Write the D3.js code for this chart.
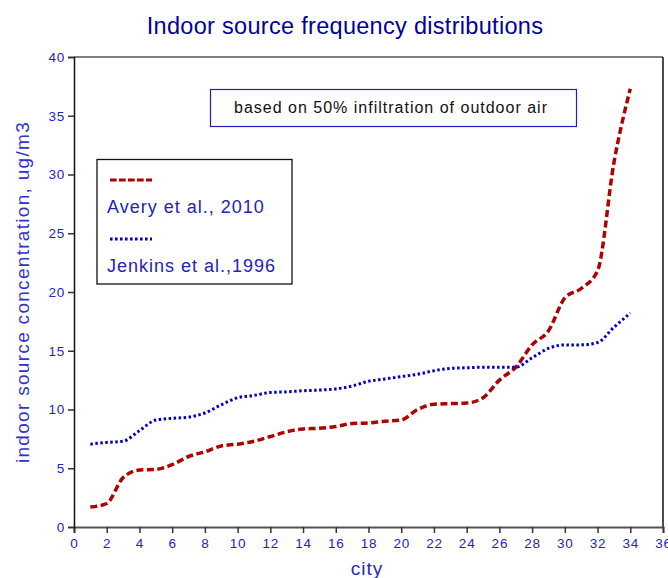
<!DOCTYPE html>
<html>
<head>
<meta charset="utf-8">
<script src="https://cdn.jsdelivr.net/npm/d3@7/dist/d3.min.js"></script>
<style>
  html, body { margin: 0; padding: 0; background: #fff; }
  svg { display: block; font-family: 'Liberation Sans', Arial, sans-serif; }
</style>
</head>
<body>
<svg id="chart" width="668" height="578"></svg>
<script>
// city index (sorted rank) 1..34
const cities = d3.range(1, 35);
// Avery et al., 2010 (ug/m3)
const avery = [1.7, 2.0, 4.2, 4.85, 4.9, 5.3, 6.0, 6.4, 6.9, 7.05,
  7.3, 7.7, 8.1, 8.35, 8.4, 8.55, 8.8, 8.85, 9.0, 9.1,
  10.0, 10.45, 10.5, 10.55, 11.0, 12.5, 13.6, 15.5, 16.7, 19.5,
  20.3, 21.8, 31.0, 37.3];
// Jenkins et al., 1996 (ug/m3)
const jenkins = [7.05, 7.2, 7.3, 8.2, 9.1, 9.25, 9.35, 9.7, 10.4, 11.0,
  11.2, 11.45, 11.5, 11.6, 11.65, 11.75, 12.0, 12.4, 12.6, 12.8,
  13.0, 13.3, 13.5, 13.55, 13.6, 13.6, 13.6, 14.4, 15.2, 15.5,
  15.5, 15.7, 17.0, 18.2];
const xTicks = d3.range(0, 37, 2);
const yTicks = d3.range(0, 41, 5);

const series = [
  { name: 'Avery et al., 2010', values: avery, color: '#b00000', dash: '7,3.5', width: 3.5 },
  { name: 'Jenkins et al.,1996', values: jenkins, color: '#0000c8', dash: '2.5,2.5', width: 3 },
];

const margin = { top: 57, right: 5, bottom: 51, left: 74 };
const width = 668 - margin.left - margin.right;
const height = 578 - margin.top - margin.bottom;
const labelColor = '#2424c0';

const svg = d3.select('#chart');
const g = svg.append('g')
  .attr('transform', `translate(${margin.left},${margin.top})`);

const x = d3.scaleLinear().domain([0, 36]).range([0, width]);
const y = d3.scaleLinear().domain([0, 40]).range([height, 0]);

// frame: top and right edges
g.append('line')
  .attr('x1', 0).attr('x2', width).attr('y1', 0).attr('y2', 0)
  .attr('stroke', '#555').attr('stroke-width', 1.5);
g.append('line')
  .attr('x1', width).attr('x2', width).attr('y1', 0).attr('y2', height)
  .attr('stroke', '#111').attr('stroke-width', 1.5);

// axes
const xAxis = g.append('g')
  .attr('transform', `translate(0,${height})`)
  .call(d3.axisBottom(x).tickValues(xTicks).tickSize(6).tickPadding(5));
const yAxis = g.append('g')
  .call(d3.axisLeft(y).tickValues(yTicks).tickSize(6).tickPadding(3));

xAxis.select('.domain').attr('stroke', '#555').attr('stroke-width', 2);
xAxis.selectAll('.tick line').attr('stroke', '#333').attr('stroke-width', 1.5);
yAxis.select('.domain').attr('stroke', '#111').attr('stroke-width', 1.5);
yAxis.selectAll('.tick line').attr('stroke', '#333').attr('stroke-width', 1.5);
[xAxis, yAxis].forEach((a) => {
  a.selectAll('text')
    .attr('fill', labelColor)
    .style('font-size', '13.5px')
    .style('letter-spacing', '0.8px')
    .style('font-family', "'Liberation Sans', Arial, sans-serif");
});

// lines
const line = d3.line()
  .x((d, i) => x(cities[i]))
  .y(d => y(d))
  .curve(d3.curveMonotoneX);

g.selectAll('path.series')
  .data(series)
  .enter().append('path')
  .classed('series', true)
  .attr('d', d => line(d.values))
  .attr('fill', 'none')
  .attr('stroke', d => d.color)
  .attr('stroke-width', d => d.width)
  .attr('stroke-dasharray', d => d.dash);

// title
svg.append('text')
  .attr('x', 345)
  .attr('y', 34)
  .attr('text-anchor', 'middle')
  .attr('fill', '#0000a0')
  .style('font-size', '23.5px')
  .style('letter-spacing', '0.3px')
  .text('Indoor source frequency distributions');

// axis titles
svg.append('text')
  .attr('x', 367)
  .attr('y', 575)
  .attr('text-anchor', 'middle')
  .attr('fill', '#2828c8')
  .style('font-size', '19px')
  .style('letter-spacing', '1px')
  .text('city');

svg.append('text')
  .attr('transform', `translate(29,${margin.top + height / 2}) rotate(-90)`)
  .attr('text-anchor', 'middle')
  .attr('fill', '#3333cc')
  .style('font-size', '19px')
  .style('letter-spacing', '1.3px')
  .text('indoor source concentration, ug/m3');

// annotation box
svg.append('rect')
  .attr('x', 210.5).attr('y', 89.5)
  .attr('width', 366).attr('height', 37)
  .attr('fill', '#fff')
  .attr('stroke', '#2020c0').attr('stroke-width', 1.2);
svg.append('text')
  .attr('x', 391)
  .attr('y', 113)
  .attr('text-anchor', 'middle')
  .attr('fill', '#111')
  .style('font-size', '16px')
  .style('letter-spacing', '1px')
  .text('based on 50% infiltration of outdoor air');

// legend
const legend = svg.append('g');
legend.append('rect')
  .attr('x', 97).attr('y', 159.5)
  .attr('width', 195).attr('height', 124.5)
  .attr('fill', '#fff')
  .attr('stroke', '#111').attr('stroke-width', 1.3);

const rows = legend.selectAll('g.row')
  .data(series)
  .enter().append('g')
  .classed('row', true)
  .attr('transform', (d, i) => `translate(0,${i * 59})`);

rows.append('line')
  .attr('x1', 110).attr('x2', 152)
  .attr('y1', 180).attr('y2', 180)
  .attr('stroke', d => d.color)
  .attr('stroke-width', 3)
  .attr('stroke-dasharray', (d, i) => (i === 0 ? '6.7,2.3' : '2.6,2.4'));

rows.append('text')
  .attr('x', 107)
  .attr('y', 213)
  .attr('fill', '#2323b8')
  .style('font-size', '18px')
  .style('letter-spacing', '1px')
  .text(d => d.name);
</script>
</body>
</html>
